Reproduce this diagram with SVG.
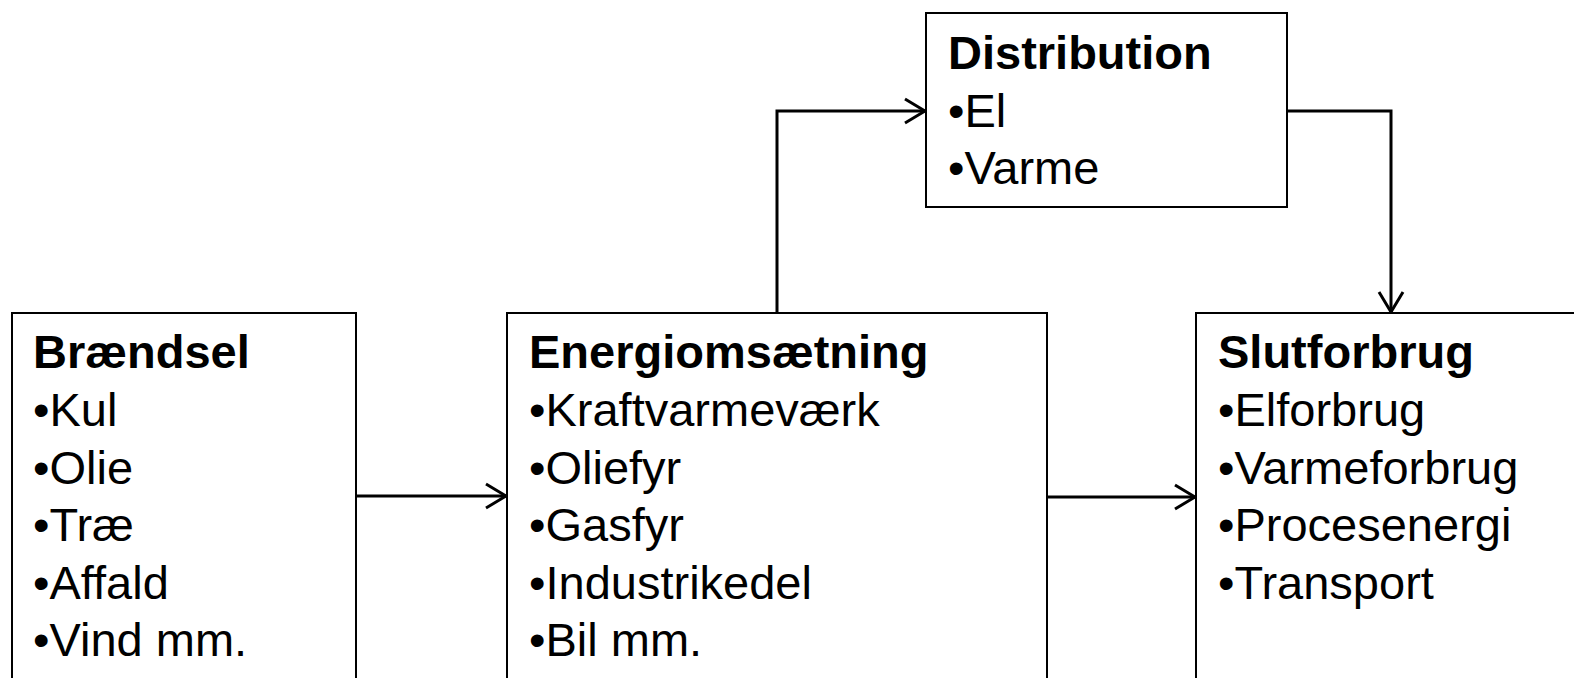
<svg xmlns="http://www.w3.org/2000/svg" width="1574" height="678" viewBox="0 0 1574 678">
<defs>
<style>
.box{fill:#fff;stroke:#000;stroke-width:2}
.t{font-family:"Liberation Sans",Arial,sans-serif;font-size:47px;fill:#000}
.h{font-weight:bold}
.c{fill:none;stroke:#000;stroke-width:3}
</style>
<marker id="arr" viewBox="0 0 24 28" refX="22" refY="14" markerWidth="24" markerHeight="28" markerUnits="userSpaceOnUse" orient="auto">
<path d="M2,2 L22,14 L2,26" fill="none" stroke="#000" stroke-width="3"/>
</marker>
</defs>
<rect width="1574" height="678" fill="#fff"/>
<g id="braendsel">
<rect class="box" x="12" y="313" width="344" height="380"/>
<text class="t h" x="33" y="368">Brændsel</text>
<text class="t" x="33" y="426">•Kul</text>
<text class="t" x="33" y="484">•Olie</text>
<text class="t" x="33" y="541">•Træ</text>
<text class="t" x="33" y="599">•Affald</text>
<text class="t" x="33" y="656">•Vind mm.</text>
</g>
<g id="energiomsaetning">
<rect class="box" x="507" y="313" width="540" height="380"/>
<text class="t h" x="529" y="368">Energiomsætning</text>
<text class="t" x="529" y="426">•Kraftvarmeværk</text>
<text class="t" x="529" y="484">•Oliefyr</text>
<text class="t" x="529" y="541">•Gasfyr</text>
<text class="t" x="529" y="599">•Industrikedel</text>
<text class="t" x="529" y="656">•Bil mm.</text>
</g>
<g id="slutforbrug">
<rect class="box" x="1196" y="313" width="400" height="380"/>
<text class="t h" x="1218" y="368">Slutforbrug</text>
<text class="t" x="1218" y="426">•Elforbrug</text>
<text class="t" x="1218" y="484">•Varmeforbrug</text>
<text class="t" x="1218" y="541">•Procesenergi</text>
<text class="t" x="1218" y="599">•Transport</text>
</g>
<g id="distribution">
<rect class="box" x="926" y="13" width="361" height="194"/>
<text class="t h" x="948" y="69">Distribution</text>
<text class="t" x="948" y="127">•El</text>
<text class="t" x="948" y="184">•Varme</text>
</g>
<g id="connectors">
<path class="c" d="M356,496 L506,496" marker-end="url(#arr)"/>
<path class="c" d="M1047,497 L1195,497" marker-end="url(#arr)"/>
<path class="c" d="M777,313 L777,111 L925,111" marker-end="url(#arr)"/>
<path class="c" d="M1287,111 L1391,111 L1391,312" marker-end="url(#arr)"/>
</g>
</svg>
